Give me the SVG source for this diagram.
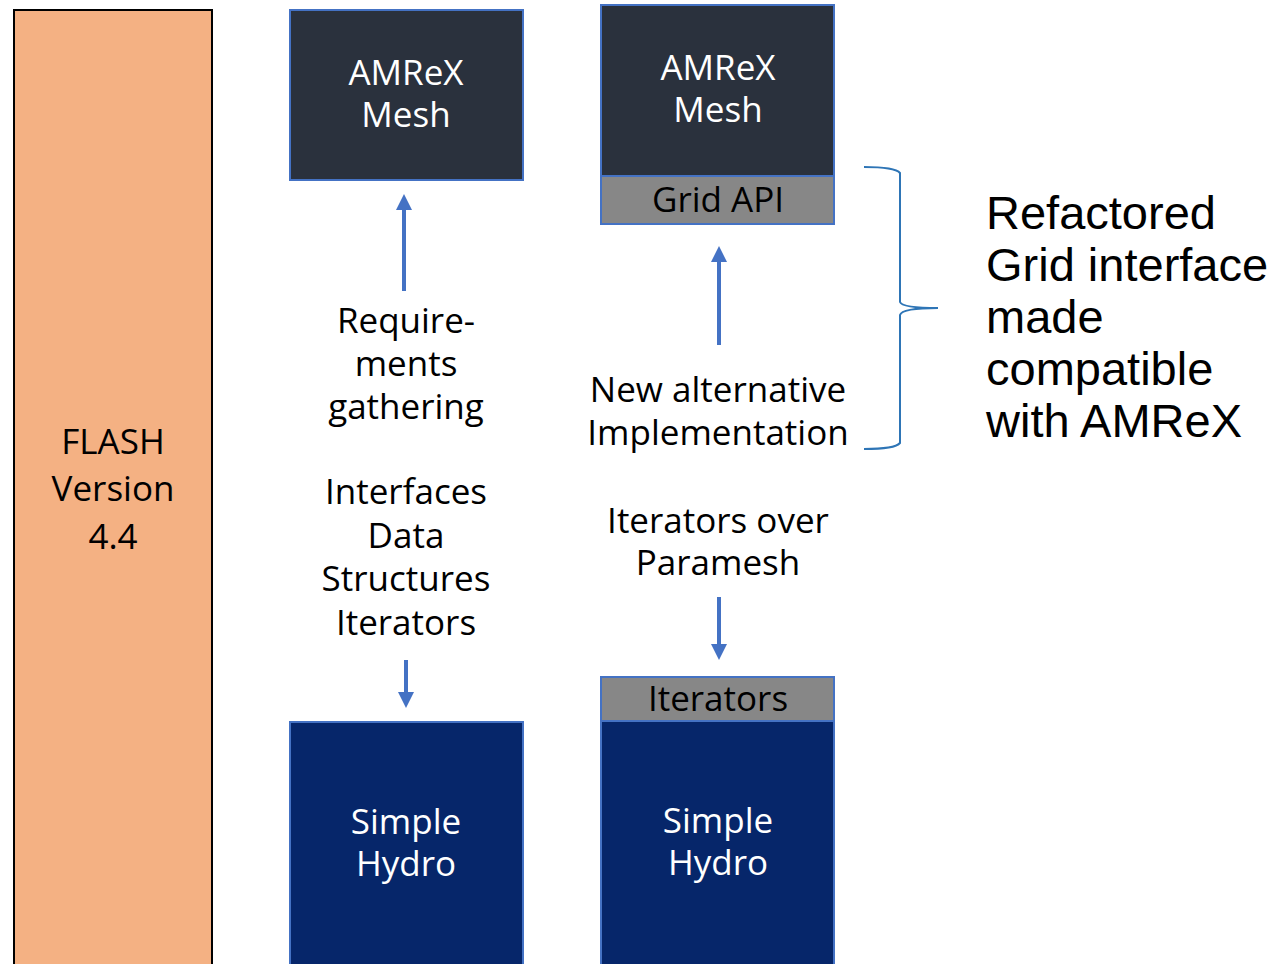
<svg xmlns="http://www.w3.org/2000/svg" width="1279" height="964" viewBox="0 0 1279 964">
<defs>
<style>
.t{font-family:"Open Sans","Noto Sans",sans-serif;font-size:35px;text-anchor:middle;fill:#000}
.w{fill:#fff}
.mesh{fill:#2a313d;stroke:#4472c4;stroke-width:2}
.bar{fill:#878787;stroke:#4472c4;stroke-width:2}
.hydro{fill:#06266a;stroke:#4472c4;stroke-width:2}
.arr{stroke:#4472c4;stroke-width:4;fill:none}
.big{font-family:"Liberation Sans",Arial,sans-serif;font-size:47px;fill:#000}
</style>
<marker id="ah" viewBox="0 0 10 10" refX="5" refY="5" markerWidth="4" markerHeight="4" orient="auto-start-reverse" markerUnits="strokeWidth"><path d="M0,0 L10,5 L0,10 z" fill="#4472c4"/></marker>
</defs>
<rect width="1279" height="964" fill="#fff"/>
<g id="flash">
<rect x="14" y="10" width="198" height="970" fill="#f4b183" stroke="#000" stroke-width="2"/>
<text class="t" x="113" y="454">FLASH</text>
<text class="t" x="113" y="501">Version</text>
<text class="t" x="113" y="549">4.4</text>
</g>
<g id="mesh-left">
<rect class="mesh" x="290" y="10" width="233" height="170"/>
<text class="t w" x="406" y="85">AMReX</text>
<text class="t w" x="406" y="127">Mesh</text>
</g>
<g id="hydro-left">
<rect class="hydro" x="290" y="722" width="233" height="260"/>
<text class="t w" x="406" y="834">Simple</text>
<text class="t w" x="406" y="876">Hydro</text>
</g>
<g id="mesh-right">
<rect class="mesh" x="601" y="5" width="233" height="171"/>
<text class="t w" x="718" y="80">AMReX</text>
<text class="t w" x="718" y="122">Mesh</text>
<rect class="bar" x="601" y="176" width="233" height="48"/>
<text class="t" x="718" y="212">Grid API</text>
</g>
<g id="hydro-right">
<rect class="bar" x="601" y="677" width="233" height="44"/>
<text class="t" x="718" y="711">Iterators</text>
<rect class="hydro" x="601" y="721" width="233" height="260"/>
<text class="t w" x="718" y="833">Simple</text>
<text class="t w" x="718" y="875">Hydro</text>
</g>
<g id="labels">
<text class="t" x="406" y="333">Require-</text>
<text class="t" x="406" y="376">ments</text>
<text class="t" x="406" y="419">gathering</text>
<text class="t" x="406" y="504">Interfaces</text>
<text class="t" x="406" y="548">Data</text>
<text class="t" x="406" y="591">Structures</text>
<text class="t" x="406" y="635">Iterators</text>
<text class="t" x="718" y="402">New alternative</text>
<text class="t" x="718" y="445">Implementation</text>
<text class="t" x="718" y="533">Iterators over</text>
<text class="t" x="718" y="575">Paramesh</text>
</g>
<g id="note">
<text class="big" x="986" y="229">Refactored</text>
<text class="big" x="986" y="281">Grid interface</text>
<text class="big" x="986" y="333">made</text>
<text class="big" x="986" y="385">compatible</text>
<text class="big" x="986" y="437">with AMReX</text>
</g>
<g id="connectors">
<line class="arr" x1="404" y1="291" x2="404" y2="202" marker-end="url(#ah)"/>
<line class="arr" x1="406" y1="660" x2="406" y2="700" marker-end="url(#ah)"/>
<line class="arr" x1="719" y1="345" x2="719" y2="254" marker-end="url(#ah)"/>
<line class="arr" x1="719" y1="597" x2="719" y2="652" marker-end="url(#ah)"/>
<path d="M864,167 Q895,167 900,173 L900,302 Q902,308 938,308 Q902,308 900,315 L900,443 Q895,449 864,449" fill="none" stroke="#2e75b6" stroke-width="2"/>
</g>
</svg>
